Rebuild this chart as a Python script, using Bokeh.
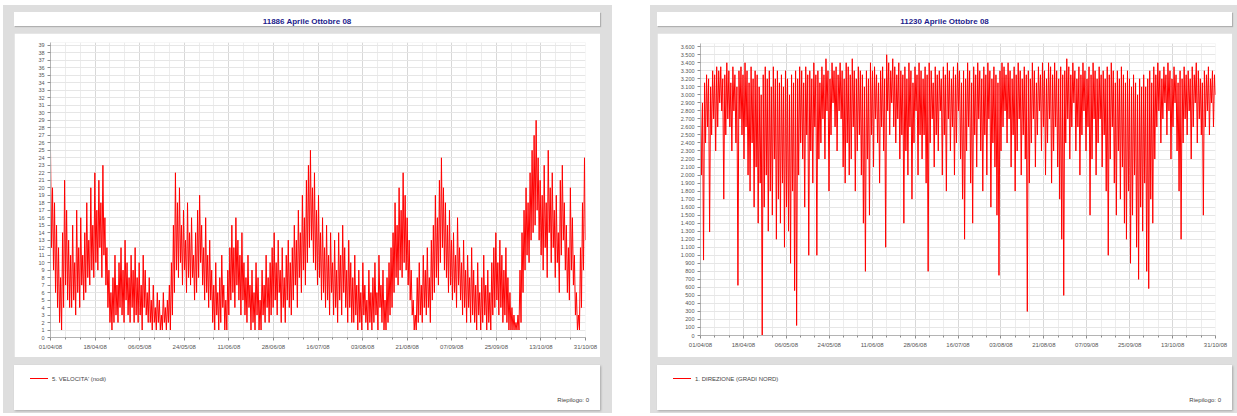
import pandas as pd
from bokeh.plotting import figure
from bokeh.layouts import row, column
from bokeh.models import Div, Range1d, FixedTicker, DatetimeTickFormatter
from bokeh.embed import file_html
from bokeh.resources import INLINE

# Observation period shared by both stations
period_start = "2008-04-01"
period_end = "2008-10-31"

speed_title = "11886 Aprile Ottobre 08"
direction_title = "11230 Aprile Ottobre 08"
speed_label = "5. VELOCITA' (nodi)"
direction_label = "1. DIREZIONE (GRADI NORD)"
footer_label = "Riepilogo: 0"

# Wind speed readings (knots), regular interval over the period
speed_values = [
    25, 12, 20, 9, 18, 6, 15, 4, 12, 2, 8, 1, 14, 4, 21, 7, 17, 5, 13, 4,
    11, 4, 15, 5, 10, 3, 17, 6, 12, 4, 16, 7, 11, 5, 14, 6, 18, 8, 13, 7,
    20, 9, 15, 8, 22, 10, 17, 9, 21, 12, 18, 8, 23, 11, 16, 7, 12, 4, 9, 2,
    6, 1, 8, 2, 11, 3, 7, 2, 10, 4, 12, 3, 9, 2, 13, 5, 10, 3, 8, 2,
    11, 4, 9, 2, 12, 3, 8, 2, 10, 3, 7, 1, 11, 4, 9, 3, 6, 2, 8, 2,
    5, 1, 7, 2, 4, 1, 6, 2, 5, 1, 3, 1, 6, 2, 4, 1, 5, 2, 7, 1,
    10, 3, 15, 6, 22, 9, 18, 8, 20, 10, 15, 7, 17, 9, 13, 6, 18, 8, 14, 7,
    16, 8, 11, 5, 14, 6, 17, 8, 19, 10, 15, 7, 12, 5, 16, 6, 11, 4, 13, 5,
    9, 2, 7, 1, 10, 3, 6, 1, 8, 2, 11, 4, 7, 1, 5, 1, 9, 3, 12, 5,
    15, 6, 12, 4, 16, 7, 13, 5, 11, 3, 14, 5, 10, 3, 8, 2, 11, 4, 7, 1,
    9, 2, 6, 1, 10, 3, 8, 1, 5, 1, 9, 3, 7, 2, 11, 4, 8, 2, 10, 3,
    12, 4, 14, 5, 10, 3, 13, 6, 9, 2, 12, 4, 8, 2, 11, 5, 13, 4, 10, 3,
    12, 5, 15, 7, 13, 4, 17, 8, 14, 6, 19, 9, 16, 7, 21, 10, 23, 12, 25, 13,
    20, 10, 22, 9, 17, 7, 19, 8, 14, 5, 16, 6, 12, 4, 15, 5, 11, 3, 14, 6,
    10, 3, 13, 4, 9, 2, 14, 5, 11, 3, 15, 6, 12, 4, 9, 2, 13, 4, 10, 2,
    8, 2, 11, 3, 7, 1, 9, 2, 6, 1, 10, 3, 7, 2, 5, 1, 9, 2, 6, 1,
    8, 2, 10, 3, 6, 1, 11, 4, 7, 2, 9, 1, 5, 1, 8, 2, 10, 3, 12, 4,
    14, 6, 18, 8, 15, 7, 20, 9, 17, 8, 22, 10, 19, 9, 16, 7, 13, 5, 9, 3,
    5, 1, 3, 1, 8, 2, 10, 3, 7, 2, 11, 4, 9, 3, 12, 4, 8, 2, 13, 5,
    15, 6, 19, 8, 16, 7, 21, 10, 24, 12, 20, 9, 18, 8, 15, 6, 17, 7, 13, 5,
    14, 6, 11, 4, 16, 7, 12, 5, 10, 3, 13, 4, 9, 2, 11, 4, 8, 2, 12, 3,
    9, 2, 7, 1, 10, 3, 6, 1, 8, 2, 11, 3, 7, 1, 9, 2, 6, 1, 10, 3,
    12, 4, 14, 5, 10, 3, 13, 4, 11, 2, 9, 3, 12, 2, 8, 1, 6, 1, 4, 1,
    3, 1, 2, 1, 3, 1, 9, 2, 14, 6, 17, 9, 20, 11, 18, 10, 22, 13, 25, 14,
    27, 15, 29, 17, 24, 13, 21, 11, 19, 9, 23, 12, 18, 8, 25, 14, 20, 10, 22, 12,
    17, 8, 19, 10, 14, 6, 21, 11, 23, 13, 18, 9, 15, 6, 12, 5, 20, 9, 16, 7,
    11, 3, 6, 1, 3, 1, 12, 4, 18, 9, 24, 13,
]

# Wind direction readings (tenths of degree), regular interval over the period
direction_values = [
    3000, 2000, 2900, 940, 3150, 2400, 3250, 2600, 3200, 1290, 3100, 2500, 3300, 2700, 3250, 2300, 3350, 2600, 3300, 2900,
    3350, 2800, 3200, 1700, 3250, 2500, 3400, 2700, 3300, 2600, 3150, 2300, 3350, 2800, 3250, 2400, 3100, 625, 3300, 2700,
    3350, 2500, 3250, 2200, 3400, 2600, 3300, 2000, 3150, 1800, 3350, 2400, 3200, 1600, 3300, 2100, 3250, 1400, 3100, 1900,
    3000, 0, 3250, 1600, 3350, 2000, 3200, 1300, 3300, 1800, 3100, 1500, 3350, 2200, 3200, 1200, 3300, 1700, 3150, 1400,
    3250, 1900, 3100, 1100, 3300, 1600, 3200, 1300, 3000, 900, 3250, 1800, 3150, 560, 3300, 125, 3200, 2000, 3350, 2400,
    3300, 2200, 3150, 1600, 3350, 2500, 3250, 1000, 3300, 2300, 3200, 1900, 3400, 2600, 3250, 1000, 3300, 2200, 3150, 2400,
    3350, 2700, 3250, 2200, 3450, 2800, 3300, 1800, 3200, 2500, 3400, 2900, 3300, 2600, 3350, 2300, 3250, 2800, 3400, 2700,
    3300, 2100, 3200, 1900, 3400, 2400, 3350, 2000, 3250, 2200, 3450, 2600, 3300, 1800, 3200, 2300, 3350, 2500, 3300, 2000,
    3250, 1400, 3100, 800, 3300, 2200, 3200, 1500, 3400, 2500, 3300, 2100, 3350, 2700, 3250, 2400, 3150, 1900, 3300, 2600,
    3350, 2300, 3200, 1100, 3500, 2800, 3400, 2500, 3300, 2900, 3450, 2600, 3350, 2400, 3250, 2700, 3400, 2200, 3300, 2500,
    3250, 1400, 3350, 2300, 3200, 2000, 3400, 2600, 3300, 1700, 3150, 2400, 3350, 2800, 3250, 2000, 3400, 2500, 3300, 2200,
    3200, 2500, 3350, 1900, 3250, 800, 3400, 2400, 3300, 2700, 3150, 2100, 3350, 2500, 3250, 2300, 3300, 2800, 3200, 2000,
    3350, 2500, 3250, 1800, 3400, 2700, 3300, 2300, 3200, 2600, 3350, 2000, 3250, 2400, 3400, 2800, 3300, 2200, 3150, 1700,
    3300, 1200, 3200, 2300, 3400, 2600, 3300, 1900, 3150, 1400, 3350, 2500, 3250, 2100, 3400, 2700, 3300, 2300, 3200, 1800,
    3350, 2500, 3250, 2000, 3400, 2700, 3300, 1600, 3200, 2400, 3350, 2100, 3250, 1500, 3150, 750, 3300, 2300, 3400, 2600,
    3350, 2800, 3250, 2400, 3400, 2700, 3300, 2100, 3200, 2500, 3350, 1800, 3250, 2300, 3400, 2700, 3300, 2000, 3200, 2500,
    3350, 2200, 3250, 300, 3300, 1900, 3200, 2400, 3400, 2700, 3300, 2100, 3150, 2500, 3350, 2800, 3250, 2300, 3400, 2600,
    3300, 2000, 3200, 2400, 3400, 2700, 3350, 1900, 3250, 2300, 3400, 2600, 3300, 2100, 3200, 1700, 3350, 1200, 3250, 500,
    3300, 2400, 3450, 2700, 3350, 2200, 3250, 2600, 3400, 2900, 3300, 2300, 3200, 2600, 3350, 2000, 3250, 2500, 3400, 2800,
    3300, 2300, 3200, 2600, 3350, 1500, 3250, 2200, 3400, 2700, 3300, 2000, 3200, 2400, 3350, 2700, 3250, 2100, 3300, 2500,
    3200, 1800, 3350, 1000, 3250, 2200, 3400, 2600, 3300, 1900, 3150, 1500, 3300, 2300, 3200, 1700, 3350, 2100, 3250, 1400,
    3150, 1200, 3300, 1800, 3200, 900, 3100, 1500, 3250, 2000, 3150, 1100, 3000, 700, 3200, 1600, 3100, 1300, 3250, 1900,
    3100, 800, 3200, 585, 3300, 1700, 3150, 1400, 3350, 2200, 3250, 2600, 3400, 2800, 3300, 2400, 3200, 2700, 3350, 2900,
    3250, 2500, 3400, 2800, 3300, 2200, 3200, 2600, 3350, 2900, 3250, 2300, 3150, 1800, 3300, 1200, 3200, 2400, 3350, 2700,
    3250, 2500, 3300, 2800, 3200, 2200, 3350, 2600, 3250, 2900, 3400, 2400, 3300, 2700, 3200, 2500, 3150, 1500, 3300, 2600,
    3250, 2800, 3350, 2500, 3200, 2900, 3300, 2600, 3250, 3000,
]

speed_ticks = list(range(0, 40))
direction_ticks = list(range(0, 3700, 100))
date_tick_count = 13

FONT = "Liberation Sans"
RED = "#ff0000"


def thousands(v):
    return f"{v:,}".replace(",", ".")


def make_chart(values, yticks, y_top, width, left, right, top, bottom):
    times = pd.date_range(period_start, period_end, periods=len(values))
    p = figure(width=width, height=324, x_axis_type="datetime",
               output_backend="svg", toolbar_location=None,
               min_border_left=left, min_border_right=right,
               min_border_top=top, min_border_bottom=bottom,
               x_range=Range1d(times[0], times[-1]),
               y_range=Range1d(0, y_top))
    p.background_fill_color = "white"
    p.border_fill_color = "white"
    p.outline_line_color = None

    p.line(times, values, line_color=RED, line_width=1)

    dticks = pd.date_range(period_start, period_end, periods=date_tick_count)
    major = [t.value / 1e6 for t in dticks]
    minor = []
    for a, b in zip(major[:-1], major[1:]):
        minor += [a + (b - a) / 3, a + 2 * (b - a) / 3]
    p.xaxis.ticker = FixedTicker(ticks=major, minor_ticks=minor)
    fmt = "%d/%m/%y"
    p.xaxis.formatter = DatetimeTickFormatter(
        milliseconds=fmt, seconds=fmt, minsec=fmt, minutes=fmt, hourmin=fmt,
        hours=fmt, days=fmt, months=fmt, years=fmt)
    p.yaxis.ticker = FixedTicker(ticks=yticks)
    p.yaxis.major_label_overrides = {v: thousands(v) for v in yticks}

    for ax in (p.xaxis[0], p.yaxis[0]):
        ax.axis_line_color = "#b4b4b4"
        ax.major_tick_line_color = "#8c8c8c"
        ax.minor_tick_line_color = "#8c8c8c"
        ax.major_tick_in = 0
        ax.major_tick_out = 3
        ax.minor_tick_in = 0
        ax.minor_tick_out = 2
        ax.major_label_text_font = FONT
        ax.major_label_text_color = "#555555"
        ax.major_label_standoff = 3
    p.yaxis.minor_tick_line_color = None
    p.xaxis.major_label_text_font_size = "6px"
    p.yaxis.major_label_text_font_size = "5.5px"

    p.xgrid.grid_line_color = "#d8d8d8"
    p.xgrid.minor_grid_line_color = "#ececec"
    p.ygrid.grid_line_color = "#e6e6e6"
    return p


def title_bar(text, width):
    return Div(
        text=(f"<div style='width:{width}px;height:14px;line-height:14px;"
              f"text-align:center;font-family:\"{FONT}\";font-size:8px;"
              f"font-weight:bold;color:#1c1c8c;'>{text}</div>"),
        width=width, height=14, margin=0,
        styles={"background-color": "white", "box-shadow": "1px 1px 1px #b0b0b0"},
    )


def legend_box(label, width):
    return Div(
        text=(f"<div style='position:relative;width:{width}px;height:45px;"
              f"font-family:\"{FONT}\";font-size:6px;color:#444;'>"
              f"<div style='position:absolute;left:16px;top:13px;width:18px;"
              f"border-top:1px solid {RED};'></div>"
              f"<div style='position:absolute;left:38px;top:10px;'>{label}</div>"
              f"<div style='position:absolute;right:11px;top:31px;'>{footer_label}</div>"
              f"</div>"),
        width=width, height=45, margin=0,
        styles={"background-color": "white", "box-shadow": "1px 1px 2px #a8a8a8"},
    )


def panel(title, chart, label, width, pad):
    chart.margin = (7, 0, 8, 0)
    return column(
        title_bar(title, width), chart, legend_box(label, width),
        spacing=0,
        styles={"background-color": "#dedede", "padding": pad},
    )


speed_chart = make_chart(speed_values, speed_ticks, 39.4, 586, 36, 15, 9, 20)
direction_chart = make_chart(direction_values, direction_ticks, 3640, 575, 43, 17, 10, 22)

left_panel = panel(speed_title, speed_chart, speed_label, 586, "7px 12px 3px 11px")
right_panel = panel(direction_title, direction_chart, direction_label, 575, "7px 5px 3px 7px")

page = row(left_panel, right_panel, spacing=38, margin=(5, 0, 0, 3))

open("out.html", "w").write(file_html(page, INLINE, "Aprile Ottobre 08"))
